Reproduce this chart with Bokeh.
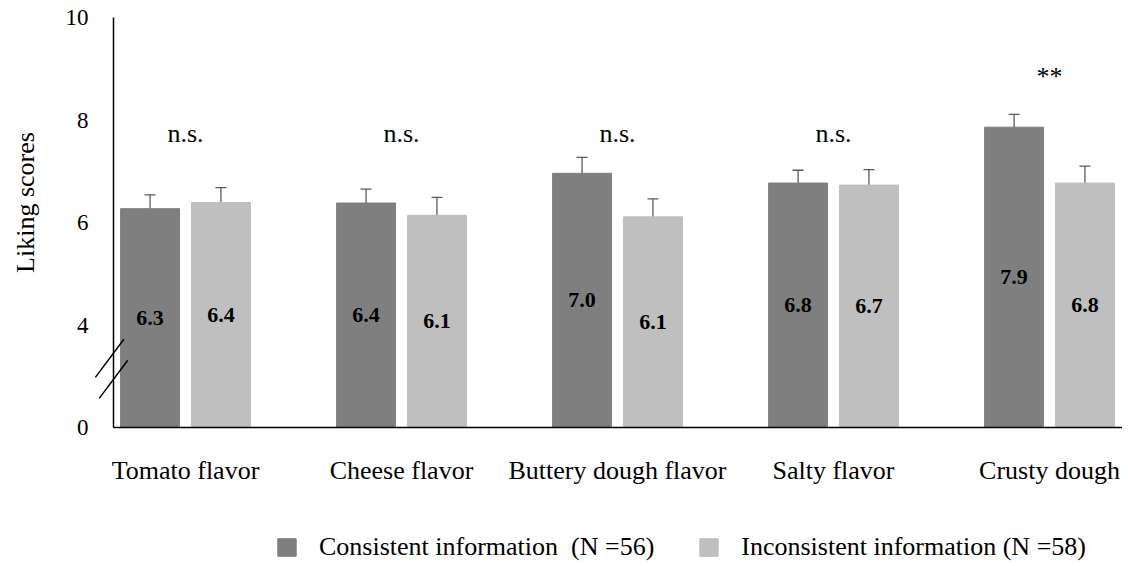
import math
from bokeh.plotting import figure
from bokeh.models import (ColumnDataSource, Whisker, TeeHead, Legend, LegendItem,
                          FixedTicker, Range1d, Label)
from bokeh.core.properties import value
from bokeh.transform import dodge
from bokeh.embed import file_html
from bokeh.resources import INLINE

# ---------------- data ----------------
categories = ["Tomato flavor", "Cheese flavor", "Buttery dough flavor", "Salty flavor", "Crusty dough"]
consistent = [6.27, 6.38, 6.96, 6.77, 7.86]
inconsistent = [6.39, 6.14, 6.11, 6.73, 6.77]
consistent_err = [0.27, 0.27, 0.31, 0.25, 0.25]
inconsistent_err = [0.29, 0.35, 0.35, 0.30, 0.33]
significance = ["n.s.", "n.s.", "n.s.", "n.s.", "**"]
series_names = ["Consistent information  (N =56)", "Inconsistent information (N =58)"]
y_tick_values = [0, 4, 6, 8, 10]
y_axis_title = "Liking scores"

# ---------------- layout / styling ----------------
FONT = "Liberation Serif"
DARK = "#7f7f7f"
LIGHT = "#bfbfbf"
ERR = "#595959"
OFFSET = 0.164
BAR_W = 0.273
NS_Y = 7.73
STAR_Y = 8.85

W, H = 1122, 562
AXIS_PX = 113          # y-axis line, px from figure left
GROUP0_PX = 185        # first group centre, px from figure left
STEP_PX = 216          # px per category
TOP_PX = 17            # y = 10
BASE_PX = 427          # y = 0 (broken axis)
TITLE_X_PX, TITLE_Y_PX = 25, 202


def to_display(v):
    # broken axis: 0..4 is compressed into 2..4
    return v if v >= 4 else 2 + v / 2.0


base = to_display(0)
ppu = (BASE_PX - TOP_PX) / (10 - base)
x_start = (0 - GROUP0_PX) / STEP_PX
x_end = (W - GROUP0_PX) / STEP_PX
axis_x = (AXIS_PX - GROUP0_PX) / STEP_PX
y_end = 10 + TOP_PX / ppu
y_start = base - (H - BASE_PX) / ppu

idx = list(range(len(categories)))

src = ColumnDataSource(dict(
    x=idx,
    c=consistent, i=inconsistent,
    c_up=[v + e for v, e in zip(consistent, consistent_err)],
    c_lo=[v - e for v, e in zip(consistent, consistent_err)],
    i_up=[v + e for v, e in zip(inconsistent, inconsistent_err)],
    i_lo=[v - e for v, e in zip(inconsistent, inconsistent_err)],
    c_mid=[(base + v) / 2 for v in consistent],
    i_mid=[(base + v) / 2 for v in inconsistent],
    c_lab=[f"{v:.1f}" for v in consistent],
    i_lab=[f"{v:.1f}" for v in inconsistent],
    sig=significance,
    sig_y=[STAR_Y if s == "**" else NS_Y for s in significance],
))

p = figure(width=W, height=H,
           x_range=Range1d(x_start, x_end), y_range=Range1d(y_start, y_end),
           output_backend="svg", toolbar_location=None,
           min_border=0)
p.grid.visible = False
p.outline_line_color = None

r_c = p.vbar(x=dodge("x", -OFFSET), top="c", bottom=base, width=BAR_W, source=src,
             fill_color=DARK, line_color=DARK)
r_i = p.vbar(x=dodge("x", OFFSET), top="i", bottom=base, width=BAR_W, source=src,
             fill_color=LIGHT, line_color=LIGHT)

for up, lo, off in (("c_up", "c_lo", -OFFSET), ("i_up", "i_lo", OFFSET)):
    w = Whisker(base=dodge("x", off), upper=up, lower=lo, source=src,
                line_color=ERR, line_width=1.3,
                upper_head=TeeHead(size=11, line_color=ERR, line_width=1.3),
                lower_head=TeeHead(size=11, line_color=ERR, line_width=1.3))
    p.add_layout(w)

p.text(x=dodge("x", -OFFSET), y="c_mid", text="c_lab", source=src,
       text_font=value(FONT), text_font_size="22px", text_font_style="bold",
       text_align="center", text_baseline="middle", text_color="black")
p.text(x=dodge("x", OFFSET), y="i_mid", text="i_lab", source=src,
       text_font=value(FONT), text_font_size="22px", text_font_style="bold",
       text_align="center", text_baseline="middle", text_color="black")
p.text(x="x", y="sig_y", text="sig", source=src,
       text_font=value(FONT), text_font_size="26px",
       text_align="center", text_baseline="middle", text_color="black")

# axis break marks (two slanted strokes across the y-axis)
bx = [axis_x - 0.018, axis_x]
by = [3.35, 2.94]
p.segment(x0=[x - 0.066 for x in bx], y0=[y - 0.372 for y in by],
          x1=[x + 0.066 for x in bx], y1=[y + 0.372 for y in by],
          line_color="black", line_width=1.5)

# axes drawn at fixed data locations
p.xaxis.fixed_location = base
p.xaxis.bounds = (axis_x, x_end)
p.yaxis.fixed_location = axis_x
p.yaxis.bounds = (base, 10)
p.xaxis.ticker = FixedTicker(ticks=idx)
p.xaxis.major_label_overrides = {i: c for i, c in zip(idx, categories)}
p.yaxis.ticker = FixedTicker(ticks=[to_display(v) for v in y_tick_values])
p.yaxis.major_label_overrides = {to_display(v): str(v) for v in y_tick_values}
for ax in (p.xaxis, p.yaxis):
    ax.major_tick_line_color = None
    ax.minor_tick_line_color = None
    ax.axis_line_color = "black"
    ax.axis_line_width = 1.5
    ax.major_label_text_font = FONT
    ax.major_label_text_color = "black"
p.xaxis.major_label_text_font_size = "26px"
p.xaxis.major_label_standoff = 22
p.yaxis.major_label_text_font_size = "23px"
p.yaxis.major_label_standoff = 19

# y-axis title
p.add_layout(Label(x=(TITLE_X_PX - GROUP0_PX) / STEP_PX, y=base + (BASE_PX - TITLE_Y_PX) / ppu,
                   text=y_axis_title, angle=math.pi / 2, text_align="center",
                   text_baseline="middle", text_font=FONT, text_font_size="26px",
                   text_color="black"))

legend = Legend(items=[LegendItem(label=series_names[0], renderers=[r_c]),
                       LegendItem(label=series_names[1], renderers=[r_i])],
                orientation="horizontal", location=(275, 0),
                glyph_width=23, glyph_height=22, label_standoff=21, spacing=43,
                padding=0, margin=0, border_line_color=None, background_fill_alpha=0,
                label_text_font=FONT, label_text_font_size="26px", label_text_color="black")
p.add_layout(legend)

open("out.html", "w").write(file_html(p, INLINE))
